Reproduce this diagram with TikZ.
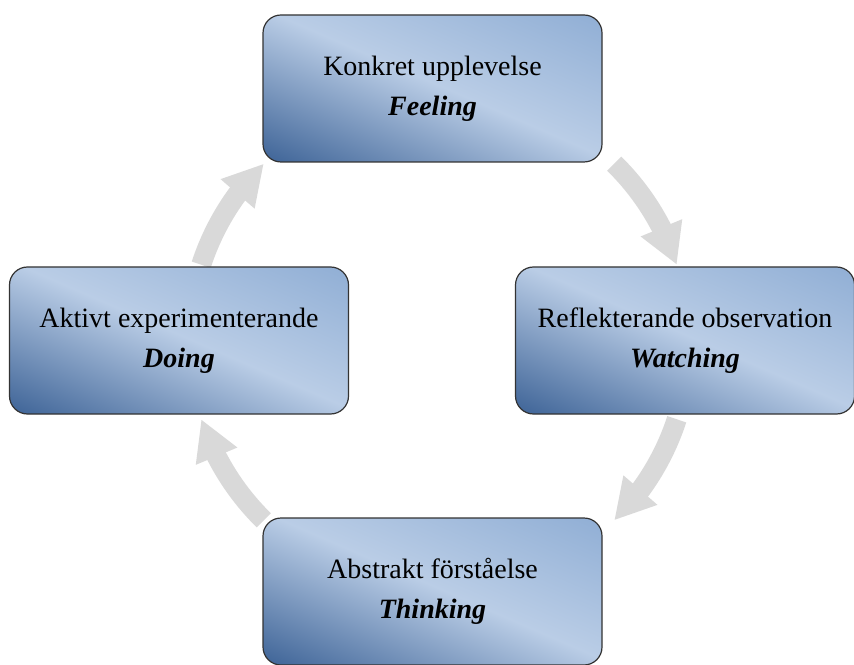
\documentclass[tikz,border=0pt]{standalone}
\usepackage{fontspec}
\setmainfont{Liberation Serif}
\usetikzlibrary{arrows.meta,bending}
\definecolor{arrowgray}{HTML}{D9D9D9}
% dark (bottom left) -> light band on the diagonal -> medium blue (top right)
\pgfdeclarefunctionalshading{stagefill}{\pgfpoint{0bp}{0bp}}{\pgfpoint{100bp}{100bp}}{}{
  50 sub 25 div exch 50 sub 25 div add 0.08 sub
  dup 0 lt
  { neg 2 div dup 1 gt {pop 1} if
    dup -0.470 mul 0.729 add exch dup -0.400 mul 0.804 add exch -0.300 mul 0.902 add }
  { 2 div dup 1 gt {pop 1} if
    dup -0.170 mul 0.729 add exch dup -0.125 mul 0.804 add exch -0.070 mul 0.902 add }
  ifelse
}
\begin{document}
\begin{tikzpicture}[x=0.5pt,y=0.5pt,
    stage/.style={draw=black!80,line width=0.6pt,rounded corners=9pt,
      shade,shading=stagefill,shading angle=0,
      minimum width=169.5pt,minimum height=73.5pt,align=center,
      font=\fontsize{14pt}{20pt}\selectfont},
    cyclearrow/.style={draw=arrowgray,line width=10pt,-{Triangle[width=21pt,length=20pt]}},
  ]
  \useasboundingbox (0,0) rectangle (854,664);
  \coordinate (C) at (439,322);
  % curved arrows round the cycle
  \draw[cyclearrow] ([shift={(45.5:250)}]C) arc[start angle=45.5,end angle=18,radius=250];
  \draw[cyclearrow] ([shift={(-18:250)}]C) arc[start angle=-18,end angle=-45.5,radius=250];
  \draw[cyclearrow] ([shift={(225.5:250)}]C) arc[start angle=225.5,end angle=198,radius=250];
  \draw[cyclearrow] ([shift={(162:250)}]C) arc[start angle=162,end angle=134.5,radius=250];
  % the four stages
  \node[stage] (KU) at (432.5,575.5) {Konkret upplevelse\\\textbf{\textit{Feeling}}};
  \node[stage] (RO) at (685,323.5) {Reflekterande observation\\\textbf{\textit{Watching}}};
  \node[stage] (AF) at (432.5,72.5) {Abstrakt förståelse\\\textbf{\textit{Thinking}}};
  \node[stage] (AE) at (179,323.5) {Aktivt experimenterande\\\textbf{\textit{Doing}}};
\end{tikzpicture}
\end{document}
